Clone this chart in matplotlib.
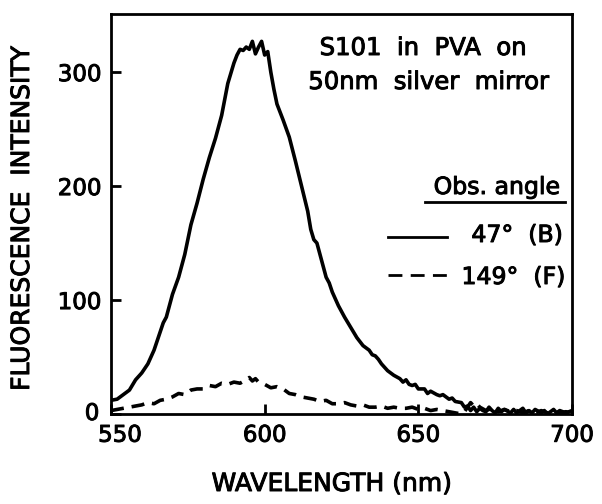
import matplotlib
matplotlib.use("Agg")
import matplotlib.pyplot as plt
import matplotlib.patheffects as pe
import matplotlib.transforms as mtransforms

# ---- data ----
wl_b = [550, 552, 554, 556, 558, 560, 562, 564, 566, 567, 568, 570, 572, 574, 576, 578,
        580, 582, 584, 586, 588, 590, 591, 592, 593, 594, 595, 596, 597, 598, 599, 600,
        601, 602, 603, 604, 606, 608, 610, 612, 614, 615, 616, 617, 618, 620, 621, 622,
        624, 626, 628, 630, 632, 634, 635, 636, 637, 638, 640, 642, 644, 645, 646, 647,
        648, 649, 650, 652, 653, 654, 656, 657, 658, 660, 661, 662, 664, 665, 666, 667,
        668, 669, 670, 671, 672, 673, 674, 675, 676, 677, 678, 680, 681, 682, 684, 685,
        686, 687, 688, 690, 691, 692, 694, 695, 696, 698, 700]
int_b = [12, 13, 17, 21, 30, 36, 44, 56, 72, 80, 85, 105, 120, 140, 166, 185,
         206, 225, 242, 262, 290, 308, 315, 320, 319, 322, 320, 327, 316, 322, 327, 315,
         318, 300, 285, 272, 258, 243, 222, 200, 178, 162, 153, 150, 140, 120, 115, 107,
         95, 85, 76, 67, 60, 56, 52, 51, 48, 44, 38, 34, 31, 28, 30, 26,
         25, 26, 22, 22, 18, 20, 17, 16, 17, 13, 14, 11, 10, 6, 7, 3,
         6, 2, 5, 3, 2, 6, 3, 1, 5, 2, 4, 1, 4, 1, 5, 1,
         3, 1, 4, 1, 3, 0, 4, 1, 3, 1, 3]

wl_f = [550, 552, 554, 556, 558, 560, 562, 564, 566, 568, 570, 572, 574, 576, 578, 580,
        582, 584, 586, 588, 590, 592, 594, 595, 596, 597, 598, 600, 602, 604, 606, 608,
        610, 612, 614, 616, 618, 620, 622, 624, 626, 628, 630, 632, 634, 636, 638, 640,
        642, 644, 646, 648, 650, 652, 654, 656, 658, 660, 662, 664, 665, 666, 667, 668,
        669, 670, 672, 674, 676, 678, 680, 682, 684, 686, 688, 690, 692, 694, 696, 698, 700]
int_f = [3, 4, 5, 6, 7, 8, 10, 9, 12, 13, 15, 18, 17, 21, 22, 22,
         25, 24, 27, 26, 28, 27, 30, 32, 29, 31, 28, 26, 23, 24, 22, 18,
         17, 15, 14, 13, 11, 12, 9, 9, 10, 8, 7, 8, 6, 6, 7, 5,
         6, 5, 5, 6, 4, 5, 3, 4, 3, 2, 1, 0, 2, 6, 10, 7,
         9, 6, 3, 5, 2, 4, 2, 3, 1, 3, 1, 3, 1, 2, 1, 2, 1]

x_ticks = [550, 600, 650, 700]
y_ticks = [0, 100, 200, 300]

plt.rcParams['font.family'] = ['DejaVu Sans']
bold_fx = [pe.withStroke(linewidth=0.7, foreground='black')]

fig = plt.figure(figsize=(6.02, 5.04), dpi=100)
ax = fig.add_axes([111 / 602, 90 / 504, 461 / 602, 400 / 504])

ax.plot(wl_b, int_b, color='black', lw=2.6, solid_joinstyle='round')
ax.plot(wl_f, int_f, color='black', lw=2.6, linestyle=(0, (3.6, 2.2)))

ax.set_xlim(550, 700)
ax.set_ylim(0, 351)
ax.set_xticks(x_ticks)
ax.set_yticks(y_ticks)
ax.tick_params(direction='in', length=7, width=2, labelsize=16.5, pad=7)
for s in ax.spines.values():
    s.set_linewidth(2)

fig.canvas.draw()
for lab in ax.get_xticklabels() + ax.get_yticklabels():
    lab.set_path_effects(bold_fx)
xl = ax.get_xticklabels()
xl[0].set_transform(xl[0].get_transform() +
                    mtransforms.ScaledTranslation(9 / 100, 0, fig.dpi_scale_trans))
yl = ax.get_yticklabels()
yl[0].set_transform(yl[0].get_transform() +
                    mtransforms.ScaledTranslation(-2 / 100, 3 / 100, fig.dpi_scale_trans))

fig.text(332 / 602, 1 - 484 / 504, 'WAVELENGTH (nm)', fontsize=18,
         ha='center', va='center', path_effects=bold_fx)
fig.text(22 / 602, 1 - 218 / 504, 'FLUORESCENCE  INTENSITY', fontsize=18,
         ha='center', va='center', rotation=90, path_effects=bold_fx)

ax.text(0.677, 0.915, 'S101  in  PVA  on', transform=ax.transAxes,
        ha='center', va='center', fontsize=17.5, path_effects=bold_fx)
ax.text(0.689, 0.83, '50nm  silver  mirror', transform=ax.transAxes,
        ha='center', va='center', fontsize=17.5, path_effects=bold_fx)

ax.text(0.974, 0.5675, 'Obs. angle', transform=ax.transAxes,
        ha='right', va='center', fontsize=17, path_effects=bold_fx)
ax.plot([0.681, 0.985], [0.53, 0.53], transform=ax.transAxes, color='black', lw=2)
ax.plot([0.601, 0.729], [0.4425, 0.4425], transform=ax.transAxes, color='black', lw=2)
ax.text(0.98, 0.4475, '47°  (B)', transform=ax.transAxes,
        ha='right', va='center', fontsize=17, path_effects=bold_fx)
ax.plot([0.601, 0.729], [0.3475, 0.3475], transform=ax.transAxes, color='black', lw=2,
        linestyle=(0, (5, 3)))
ax.text(0.985, 0.3425, '149°  (F)', transform=ax.transAxes,
        ha='right', va='center', fontsize=17, path_effects=bold_fx)

fig.savefig('out.png', dpi=100)
